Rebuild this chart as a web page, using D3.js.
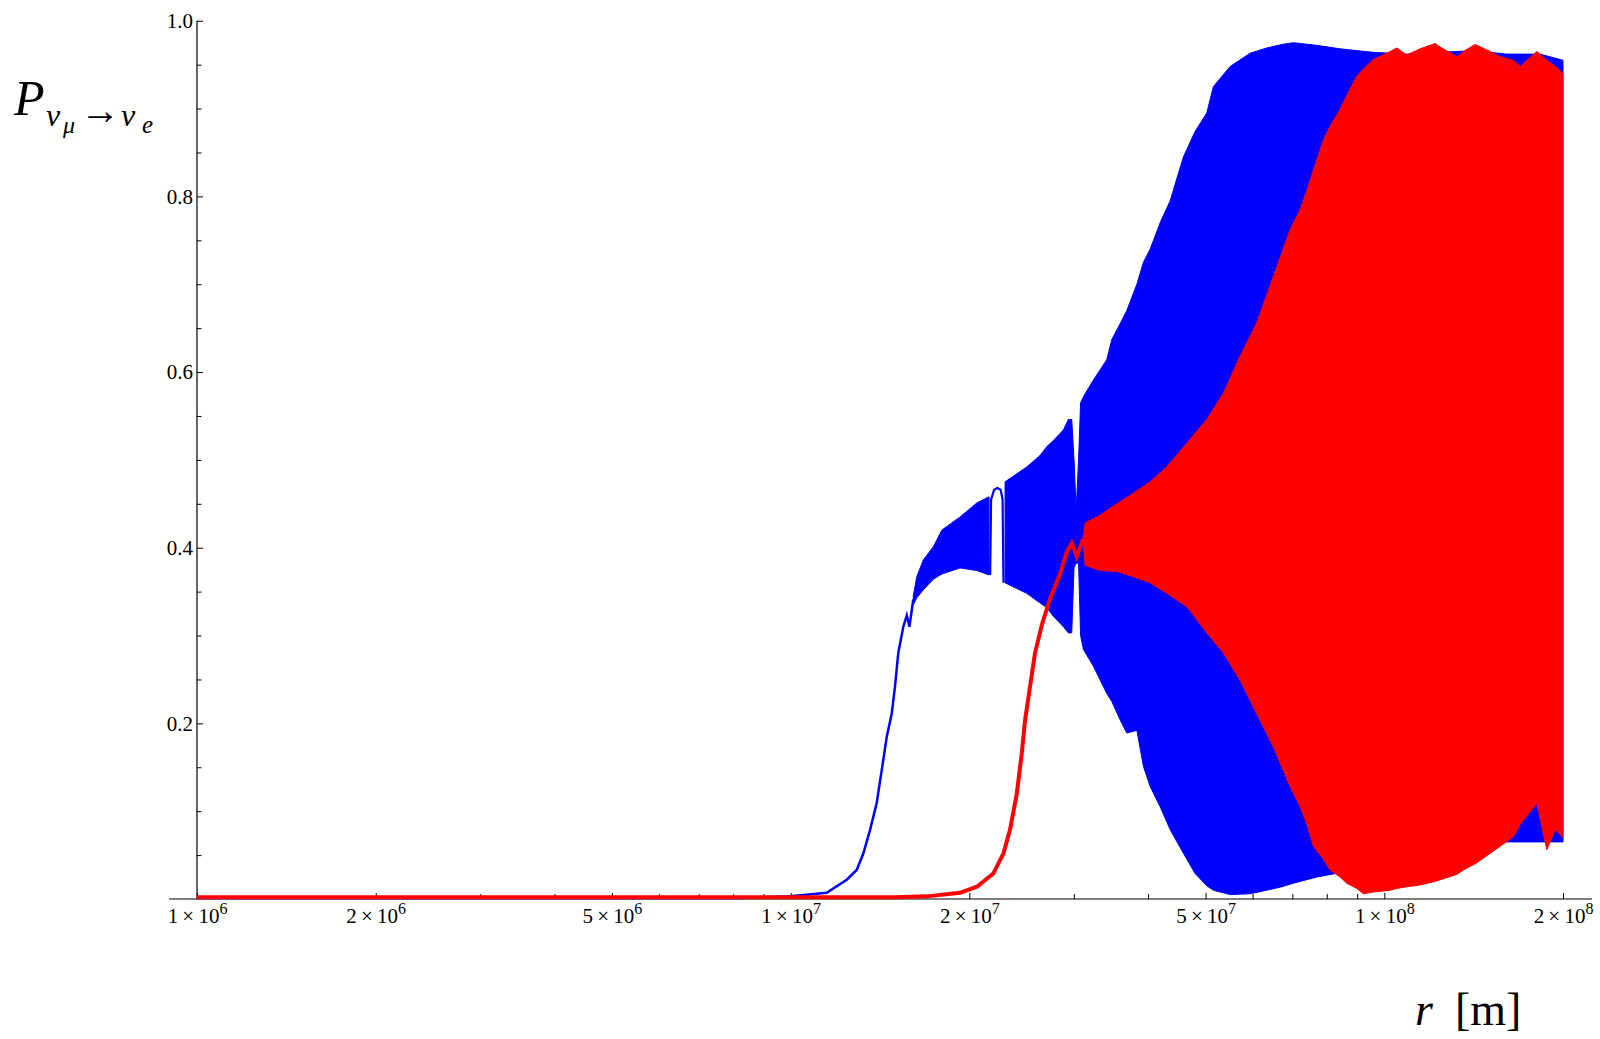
<!DOCTYPE html>
<html>
<head>
<meta charset="utf-8">
<script src="https://cdn.jsdelivr.net/npm/d3@7"></script>
<style>
body { margin: 0; background: #fff; }
svg { display: block; }
text { font-family: "Liberation Serif", "Times New Roman", serif; fill: #000; }
</style>
</head>
<body>
<svg id="chart" width="1600" height="1039"></svg>
<script>
// r [m] and P values

// blue: smooth rise, then the oscillation band (upper / lower envelope)
var blueRiseR = [1e6, 5e6, 8.22e6, 9e6, 1e7, 1.150e7, 1.243e7, 1.292e7, 1.326e7, 1.361e7, 1.396e7, 1.424e7, 1.452e7, 1.480e7, 1.499e7, 1.518e7, 1.548e7, 1.569e7, 1.585e7, 1.609e7];
var blueRiseP = [0.001, 0.001, 0.001, 0.002, 0.003, 0.007, 0.022, 0.033, 0.052, 0.079, 0.109, 0.147, 0.185, 0.211, 0.242, 0.280, 0.310, 0.323, 0.310, 0.341];

var blueBandR  = [1.609e7, 1.631e7, 1.673e7, 1.739e7, 1.797e7, 1.929e7, 2.059e7, 2.159e7, 2.2e7, 2.297e7, 2.499e7, 2.631e7, 2.700e7, 2.770e7, 2.880e7, 2.936e7, 2.975e7, 3.002e7, 3.026e7, 3.055e7, 3.079e7, 3.113e7, 3.236e7, 3.408e7, 3.475e7, 3.589e7, 3.683e7, 3.830e7, 3.929e7, 4.033e7, 4.192e7, 4.358e7, 4.588e7, 4.801e7, 5.023e7, 5.153e7, 5.500e7, 5.943e7, 6.340e7, 6.722e7, 7.031e7, 7.697e7, 8.425e7, 9.587e7, 1.091e8, 1.242e8, 1.413e8, 1.608e8, 1.830e8, 2e8];
var blueBandHi = [0.345, 0.367, 0.386, 0.401, 0.420, 0.435, 0.451, 0.458, null, 0.475, 0.492, 0.505, 0.515, 0.522, 0.534, 0.546, 0.546, 0.500, 0.443, 0.500, 0.565, 0.572, 0.591, 0.614, 0.637, 0.655, 0.670, 0.700, 0.725, 0.740, 0.770, 0.795, 0.845, 0.874, 0.895, 0.925, 0.948, 0.963, 0.969, 0.973, 0.975, 0.972, 0.968, 0.964, 0.962, 0.964, 0.966, 0.962, 0.962, 0.955];
var blueBandLo = [0.335, 0.343, 0.352, 0.364, 0.370, 0.377, 0.374, 0.369, null, 0.360, 0.348, 0.337, 0.332, 0.322, 0.310, 0.303, 0.303, 0.378, 0.382, 0.383, 0.300, 0.284, 0.265, 0.234, 0.225, 0.204, 0.189, 0.192, 0.151, 0.128, 0.105, 0.079, 0.052, 0.029, 0.015, 0.010, 0.005, 0.006, 0.010, 0.014, 0.018, 0.025, 0.030, 0.035, 0.045, 0.050, 0.060, 0.065, 0.065, 0.065];

// the single blue loop in the gap near 2.2e7
var blueLoopR = [2.168e7, 2.176e7, 2.202e7, 2.230e7, 2.258e7, 2.275e7, 2.283e7];
var blueLoopP = [0.369, 0.455, 0.466, 0.468, 0.466, 0.455, 0.360];

// red
var redRiseR = [1e6, 1.5e7, 1.695e7, 1.929e7, 2.059e7, 2.195e7, 2.283e7, 2.342e7, 2.404e7, 2.451e7, 2.483e7, 2.531e7, 2.580e7, 2.649e7, 2.735e7, 2.843e7, 2.919e7, 2.975e7, 3.034e7, 3.110e7];
var redRiseP = [0.002, 0.002, 0.003, 0.007, 0.014, 0.029, 0.052, 0.079, 0.120, 0.166, 0.204, 0.242, 0.280, 0.312, 0.342, 0.370, 0.395, 0.405, 0.390, 0.410];

var redBandR  = [3.110e7, 3.133e7, 3.320e7, 3.543e7, 3.778e7, 4.033e7, 4.301e7, 4.648e7, 5.023e7, 5.358e7, 5.716e7, 6.097e7, 6.505e7, 6.939e7, 7.215e7, 7.405e7, 7.597e7, 7.897e7, 8.104e7, 8.425e7, 8.646e7, 8.989e7, 9.222e7, 9.588e7, 1.023e8, 1.050e8, 1.091e8, 1.149e8, 1.218e8, 1.242e8, 1.325e8, 1.359e8, 1.422e8, 1.508e8, 1.567e8, 1.650e8, 1.694e8, 1.807e8, 1.878e8, 1.940e8, 2e8];
var redBandHi = [0.412, 0.428, 0.437, 0.450, 0.462, 0.475, 0.492, 0.519, 0.546, 0.576, 0.618, 0.656, 0.709, 0.762, 0.785, 0.807, 0.830, 0.864, 0.880, 0.899, 0.915, 0.937, 0.945, 0.956, 0.965, 0.969, 0.961, 0.968, 0.974, 0.970, 0.959, 0.965, 0.973, 0.965, 0.959, 0.955, 0.948, 0.965, 0.955, 0.948, 0.940];
var redBandLo = [0.405, 0.380, 0.374, 0.373, 0.367, 0.360, 0.348, 0.333, 0.303, 0.280, 0.249, 0.211, 0.173, 0.128, 0.105, 0.085, 0.060, 0.045, 0.033, 0.025, 0.018, 0.012, 0.006, 0.008, 0.010, 0.012, 0.014, 0.016, 0.020, 0.022, 0.028, 0.033, 0.040, 0.052, 0.060, 0.071, 0.085, 0.109, 0.056, 0.079, 0.070];

// ticks
var xMajorTicks = [1e6, 2e6, 5e6, 1e7, 2e7, 5e7, 1e8, 2e8];
var xMinorTicks = [3e6, 4e6, 6e6, 7e6, 8e6, 9e6, 3e7, 4e7, 6e7, 7e7, 8e7, 9e7];
var yMajorTicks = [0.2, 0.4, 0.6, 0.8, 1.0];
var yMinorTicks = [0.05, 0.1, 0.15, 0.25, 0.3, 0.35, 0.45, 0.5, 0.55, 0.65, 0.7, 0.75, 0.85, 0.9, 0.95];

var svg = d3.select("#chart");

var x = d3.scaleLog().domain([1e6, 2e8]).range([197, 1563]);
var y = d3.scaleLinear().domain([0, 1]).range([899, 20.75]);

function zip(rs, ps) {
    return rs.map(function(r, i) { return {r: r, p: ps[i]}; });
}
function zipBand(rs, hi, lo) {
    return rs.map(function(r, i) { return {r: r, hi: hi[i], lo: lo[i]}; });
}

var line = d3.line()
    .x(function(d) { return x(d.r); })
    .y(function(d) { return y(d.p); });

var band = d3.area()
    .defined(function(d) { return d.hi != null; })
    .x(function(d) { return x(d.r); })
    .y0(function(d) { return y(d.lo); })
    .y1(function(d) { return y(d.hi); });

// axes
var axes = svg.append("g");

axes.append("line")
    .attr("x1", x.range()[0] - 28).attr("x2", x.range()[1] + 29)
    .attr("y1", y(0)).attr("y2", y(0))
    .attr("stroke", "#000").attr("stroke-width", 1.2);

axes.append("line")
    .attr("x1", x.range()[0]).attr("x2", x.range()[0])
    .attr("y1", y(0)).attr("y2", y(1))
    .attr("stroke", "#000").attr("stroke-width", 1.2);

var xAxis = axes.append("g")
    .attr("transform", "translate(0," + y(0) + ")")
    .call(d3.axisBottom(x).tickValues(xMajorTicks).tickSize(-6).tickFormat(""));
xAxis.select(".domain").remove();

axes.append("g")
    .attr("transform", "translate(0," + y(0) + ")")
    .call(d3.axisBottom(x).tickValues(xMinorTicks).tickSize(-5).tickFormat(""))
    .select(".domain").remove();

// labels like 2×10^7
xAxis.selectAll(".tick text")
    .attr("font-size", 21)
    .attr("font-family", null)
    .attr("y", 24)
    .attr("dy", 0)
    .each(function(d) {
        var e = Math.floor(Math.log10(d) + 1e-9);
        var m = Math.round(d / Math.pow(10, e));
        var t = d3.select(this);
        t.append("tspan").text(m + "\u2009\u00d7\u200910");
        t.append("tspan").attr("font-size", 16).attr("dy", -9).text(e);
    });

var yAxis = axes.append("g")
    .attr("transform", "translate(" + x.range()[0] + ",0)")
    .call(d3.axisLeft(y).tickValues(yMajorTicks).tickSize(-6).tickPadding(4).tickFormat(d3.format(".1f")));
yAxis.select(".domain").remove();
yAxis.selectAll("text").attr("font-size", 21).attr("font-family", null);

axes.append("g")
    .attr("transform", "translate(" + x.range()[0] + ",0)")
    .call(d3.axisLeft(y).tickValues(yMinorTicks).tickSize(-4.5).tickFormat(""))
    .select(".domain").remove();

axes.selectAll(".tick line").attr("stroke-width", 1);

// blue curve
svg.append("path")
    .datum(zipBand(blueBandR, blueBandHi, blueBandLo))
    .attr("d", band)
    .attr("fill", "#0000ff")
    .attr("stroke", "#0000ff")
    .attr("stroke-width", 1);

svg.append("path")
    .datum(zip(blueLoopR, blueLoopP))
    .attr("d", line)
    .attr("fill", "none")
    .attr("stroke", "#0000ff")
    .attr("stroke-width", 2.2);

svg.append("path")
    .datum(zip(blueRiseR, blueRiseP))
    .attr("d", line)
    .attr("fill", "none")
    .attr("stroke", "#0000ff")
    .attr("stroke-width", 2.5);

// red curve
svg.append("path")
    .datum(zip(redRiseR, redRiseP))
    .attr("d", line)
    .attr("fill", "none")
    .attr("stroke", "#ff0000")
    .attr("stroke-width", 4);

svg.append("path")
    .datum(zipBand(redBandR, redBandHi, redBandLo))
    .attr("d", band)
    .attr("fill", "#ff0000")
    .attr("stroke", "#ff0000")
    .attr("stroke-width", 1);

// axis titles
svg.append("text").attr("x", 14).attr("y", 115)
    .attr("font-size", 50).attr("font-style", "italic").text("P");
var sub = svg.append("text").attr("font-family", "DejaVu Serif").attr("font-style", "italic");
sub.append("tspan").attr("x", 46).attr("y", 126).attr("font-size", 32).text("\u03bd");
sub.append("tspan").attr("x", 63).attr("y", 133).attr("font-size", 24).text("\u03bc");
sub.append("tspan").attr("x", 80).attr("y", 124).attr("font-size", 40)
    .attr("font-family", "Liberation Serif").attr("font-style", "normal").text("\u2192");
sub.append("tspan").attr("x", 121).attr("y", 126).attr("font-size", 32).text("\u03bd");
sub.append("tspan").attr("x", 142).attr("y", 133).attr("font-size", 25).text("e");

var xt = svg.append("text").attr("y", 1025).attr("font-size", 46);
xt.append("tspan").attr("x", 1415).attr("font-style", "italic").text("r");
xt.append("tspan").attr("x", 1455).text("[m]");
</script>
</body>
</html>
